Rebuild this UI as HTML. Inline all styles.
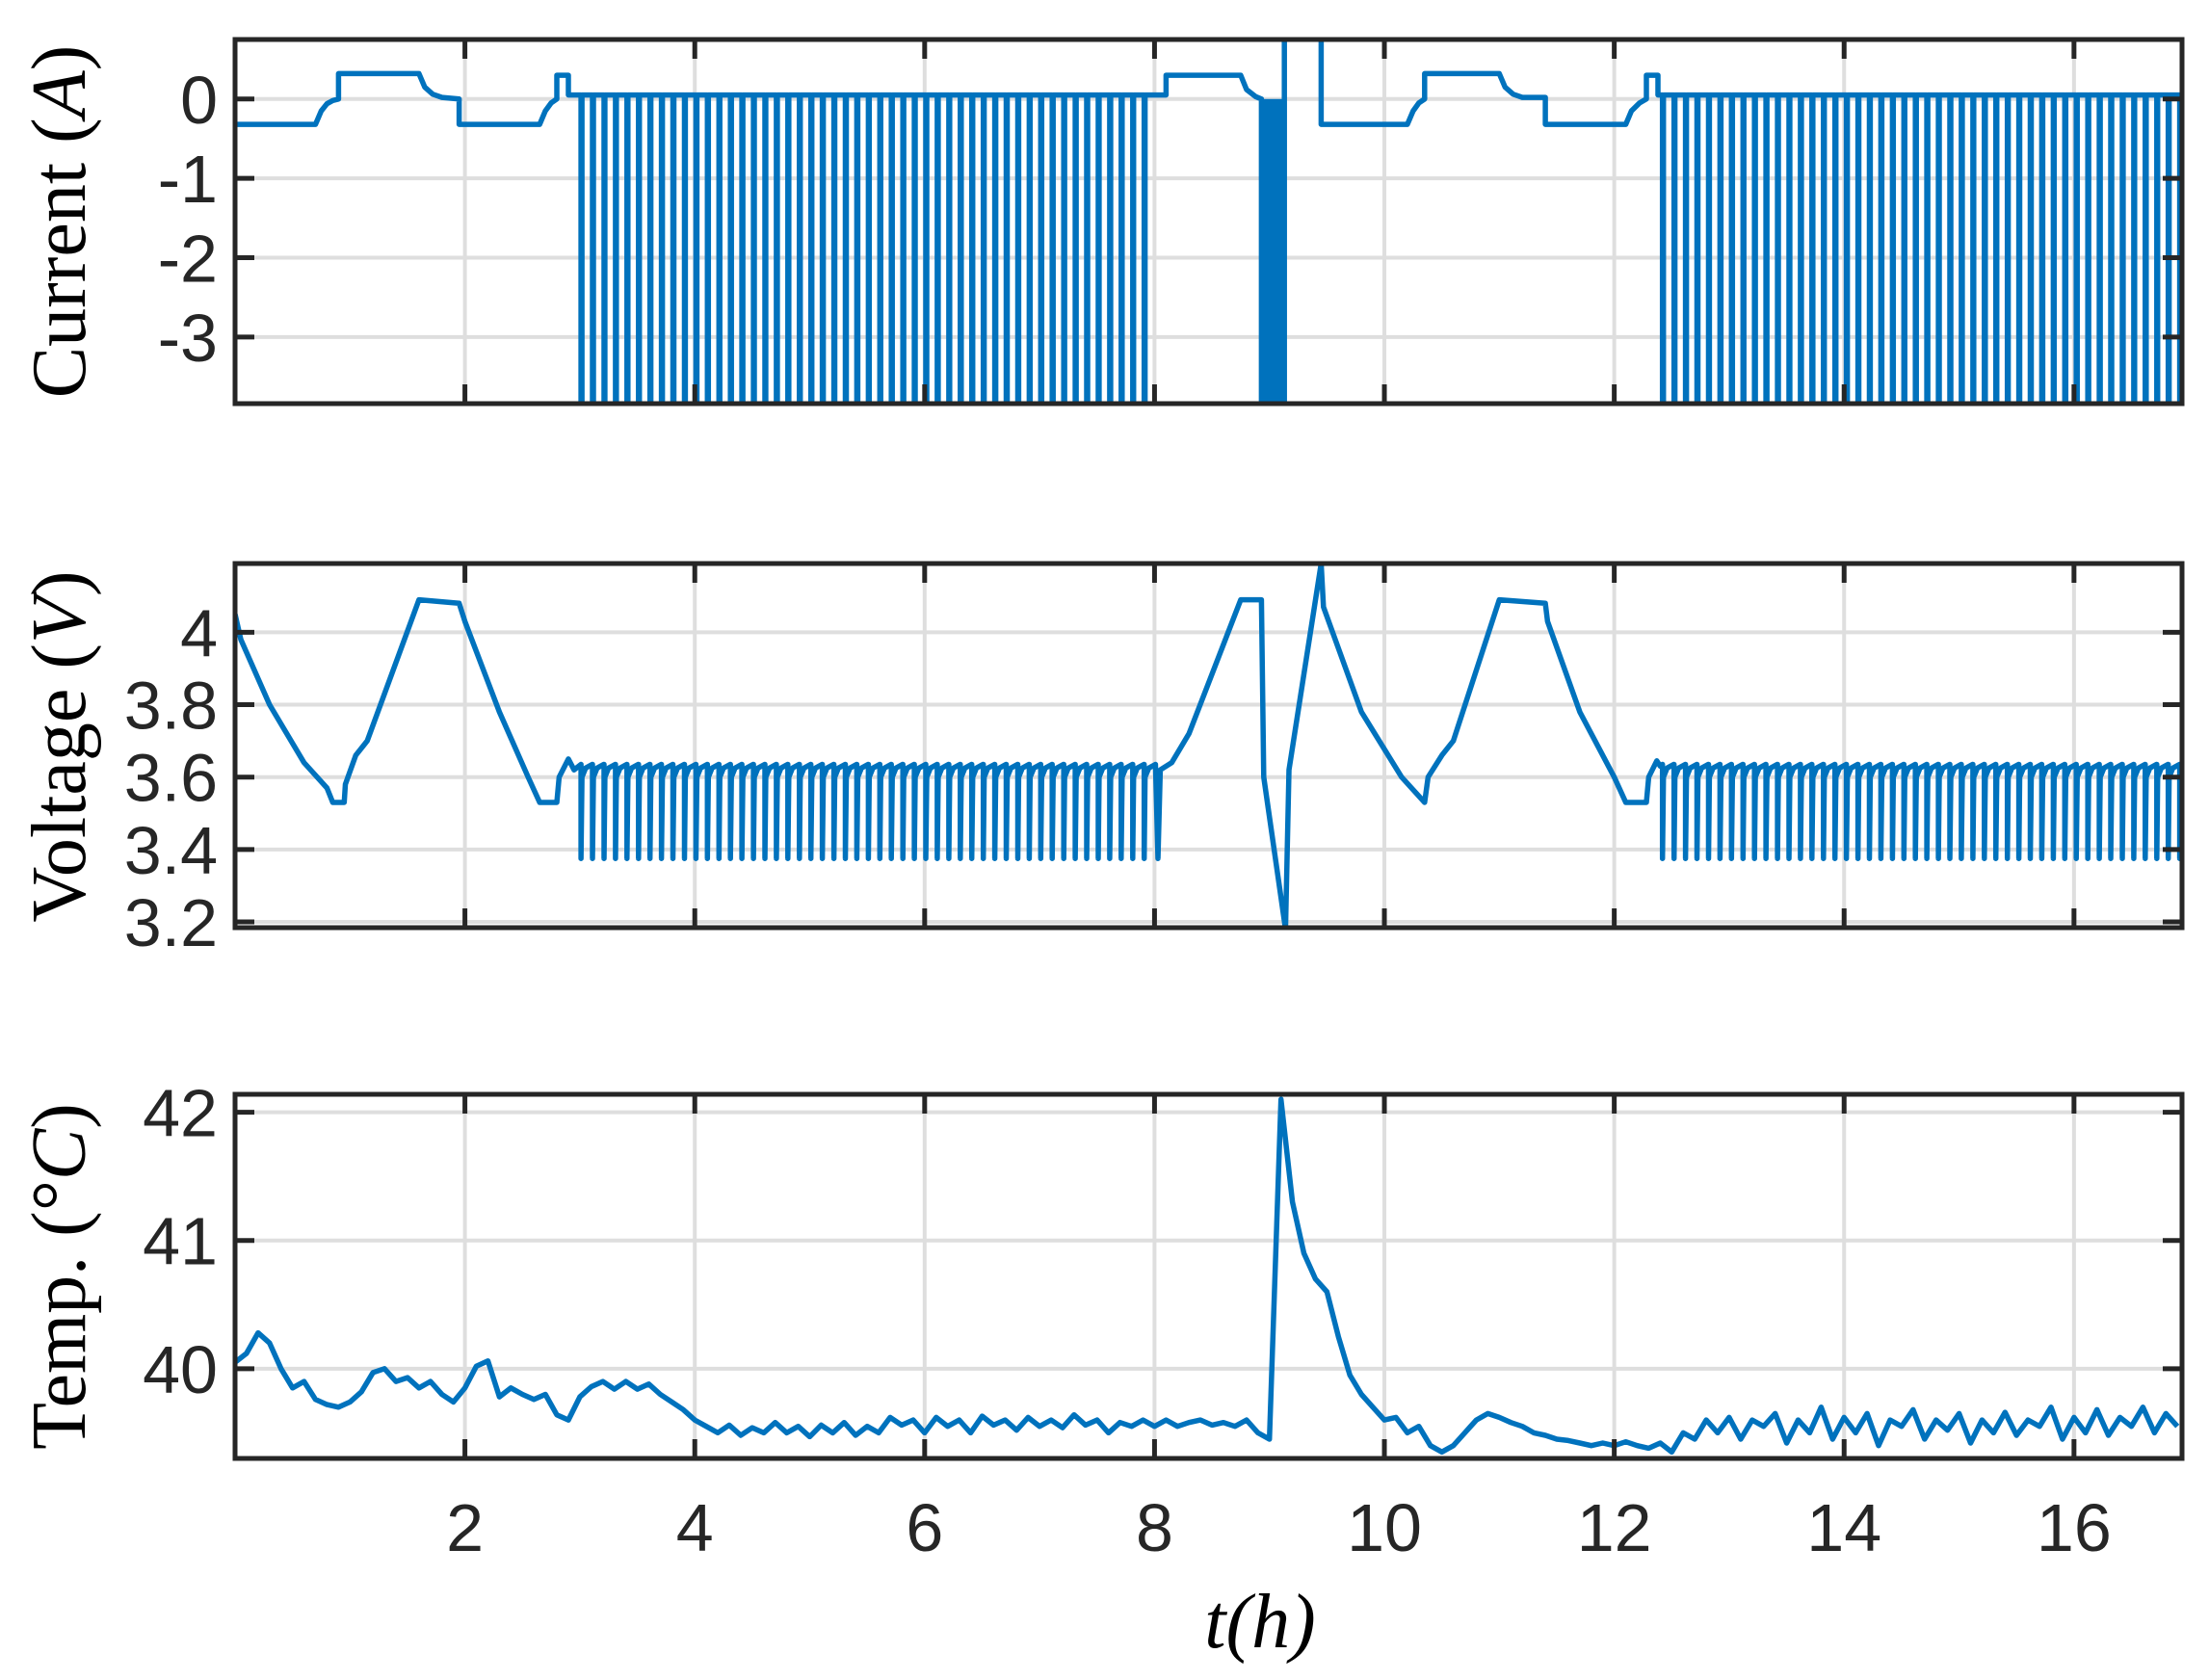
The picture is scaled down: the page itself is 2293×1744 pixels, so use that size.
<!DOCTYPE html>
<html><head><meta charset="utf-8"><style>
html,body{margin:0;padding:0;background:#fff;}
svg{display:block;}
.tk{font-family:"Liberation Sans",sans-serif;font-size:70px;fill:#262626;}
.lab{font-family:"Liberation Serif",serif;font-size:80px;fill:#000;}
</style></head><body>
<svg id="chart" width="2293" height="1744" viewBox="0 0 2293 1744" xmlns="http://www.w3.org/2000/svg">
<defs>
<clipPath id="c0"><rect x="244" y="41" width="2021" height="378"/></clipPath>
<clipPath id="c1"><rect x="244" y="585" width="2021" height="378"/></clipPath>
<clipPath id="c2"><rect x="244" y="1136" width="2021" height="378"/></clipPath>
</defs>
<g id="grid"></g>
<g id="series"></g>
<g id="axes"></g>
<text class="lab" x="1308" y="1710" text-anchor="middle" font-style="italic" font-size="86">t(h)</text>
<text class="lab" transform="translate(88,230) rotate(-90)" text-anchor="middle">Current (<tspan font-style="italic">A</tspan>)</text>
<text class="lab" transform="translate(88,775) rotate(-90)" text-anchor="middle">Voltage (<tspan font-style="italic">V</tspan>)</text>
<text class="lab" transform="translate(88,1325) rotate(-90)" text-anchor="middle">Temp. (°<tspan font-style="italic">C</tspan>)</text>
</svg>
<script>
// ---- data ----
const xTicks = [2,4,6,8,10,12,14,16];
const currentTicks = [0,-1,-2,-3];
const currentTickLabels = ["0","-1","-2","-3"];
const voltageTicks = [3.2,3.4,3.6,3.8,4];
const voltageTickLabels = ["3.2","3.4","3.6","3.8","4"];
const tempTicks = [40,41,42];
const tempTickLabels = ["40","41","42"];
// current profile breakpoints (hours, A)
const currentT = [0,0.7,0.75,0.8,0.85,0.9,0.9,1.6,1.65,1.72,1.8,1.95,1.95,2.65,2.7,2.75,2.8,2.8,2.9,2.9,3.0];
const currentI = [-0.32,-0.32,-0.15,-0.06,-0.02,0,0.32,0.32,0.15,0.06,0.02,0,-0.32,-0.32,-0.15,-0.05,0,0.3,0.3,0.05,0.05];
const currentT2 = [8.02,8.1,8.1,8.75,8.8,8.88,8.93,8.93,9.13,9.13,9.45,9.45,10.2,10.25,10.3,10.35,10.35,11.0,11.05,11.12,11.2,11.4,11.4,12.1,12.15,12.22,12.28,12.28,12.38,12.38,12.42];
const currentI2 = [0.05,0.05,0.3,0.3,0.12,0.03,0.0,-3.9,-3.9,0.9,0.9,-0.32,-0.32,-0.15,-0.05,0,0.32,0.32,0.15,0.06,0.02,0.02,-0.32,-0.32,-0.15,-0.05,0,0.3,0.3,0.05,0.05];
// pulse trains
const trainStart = [3.01,12.42];
const trainCount = [50,46];
const trainPeriod = [0.1,0.1];
const pulseCurrent = -3.9;
const pulseBase = 0.05;
const pulseVLow = 3.375, pulseVRec = 3.60, pulseVHigh = 3.635;
// voltage breakpoints
const voltT = [0,0.05,0.3,0.6,0.8,0.85,0.95,0.96,1.05,1.15,1.6,1.95,2.0,2.3,2.55,2.65,2.8,2.82,2.9,2.95,3.01];
const voltV = [4.05,3.98,3.8,3.64,3.57,3.53,3.53,3.58,3.66,3.7,4.09,4.08,4.03,3.78,3.6,3.53,3.53,3.6,3.65,3.62,3.635];
const voltT2 = [8.03,8.05,8.15,8.3,8.75,8.93,8.95,9.14,9.17,9.45,9.47,9.8,10.15,10.35,10.38,10.5,10.6,11.0,11.4,11.42,11.7,12.0,12.1,12.28,12.3,12.37,12.4,12.42];
const voltV2 = [3.375,3.62,3.64,3.72,4.09,4.09,3.6,3.18,3.62,4.19,4.07,3.78,3.6,3.53,3.6,3.66,3.7,4.09,4.08,4.03,3.78,3.6,3.53,3.53,3.6,3.645,3.63,3.635];
// temperature, sampled every 0.1 h starting at 0
const tempStep = 0.1;
const tempValues = [
40.05,40.12,40.28,40.2,40.0,39.85,39.9,39.76,39.72,39.7,
39.74,39.82,39.97,40.0,39.9,39.93,39.85,39.9,39.8,39.74,
39.85,40.02,40.06,39.78,39.85,39.8,39.76,39.8,39.64,39.6,
39.78,39.86,39.9,39.84,39.9,39.84,39.88,39.8,39.74,39.68,
39.6,39.55,39.5,39.56,39.48,39.54,39.5,39.58,39.5,39.55,
39.47,39.56,39.5,39.58,39.48,39.55,39.5,39.62,39.56,39.6,
39.5,39.62,39.55,39.6,39.5,39.63,39.56,39.6,39.52,39.62,
39.55,39.6,39.54,39.64,39.56,39.6,39.5,39.58,39.55,39.6,
39.55,39.6,39.55,39.58,39.6,39.56,39.58,39.55,39.6,39.5,
39.45,42.1,41.3,40.9,40.7,40.6,40.25,39.95,39.8,39.7,
39.6,39.62,39.5,39.55,39.4,39.35,39.4,39.5,39.6,39.65,
39.62,39.58,39.55,39.5,39.48,39.45,39.44,39.42,39.4,39.42,
39.4,39.43,39.4,39.38,39.42,39.35,39.5,39.45,39.6,39.5,
39.62,39.45,39.6,39.55,39.65,39.42,39.6,39.5,39.7,39.45,
39.62,39.5,39.65,39.4,39.6,39.55,39.68,39.45,39.6,39.52,
39.65,39.42,39.6,39.5,39.66,39.48,39.6,39.55,39.7,39.45,
39.62,39.5,39.68,39.48,39.62,39.55,39.7,39.5,39.65,39.55];

// ---- layout ----
const L=244, R=2265, xMax=16.94;
const panels=[
 {top:41,bot:419,min:-3.84,max:0.75},
 {top:585,bot:963,min:3.184,max:4.19},
 {top:1136,bot:1514,min:39.3,max:42.14}];
const X=t=>L+(t/xMax)*(R-L);
const Yf=p=>v=>p.bot-(v-p.min)/(p.max-p.min)*(p.bot-p.top);
const yC=Yf(panels[0]), yV=Yf(panels[1]), yT=Yf(panels[2]);
const NS="http://www.w3.org/2000/svg";
function mk(parent,tag,attrs){const e=document.createElementNS(NS,tag);for(const k in attrs)e.setAttribute(k,attrs[k]);parent.appendChild(e);return e;}
const grid=document.getElementById('grid'), ser=document.getElementById('series'), ax=document.getElementById('axes');
const SW=5.5;

// grid
panels.forEach((p,i)=>{
  xTicks.forEach(t=>{const g=mk(grid,'line',{x1:X(t),x2:X(t),y1:p.top,y2:p.bot,stroke:'#dedede','stroke-width':4});
  
  });
  const ticks=[currentTicks,voltageTicks,tempTicks][i], yf=[yC,yV,yT][i];
  ticks.forEach(v=>{const g=mk(grid,'line',{x1:L,x2:R,y1:yf(v),y2:yf(v),stroke:'#dedede','stroke-width':4});
  
  });
});

// current series
let pts=[];
for(let i=0;i<currentT.length;i++)pts.push([X(currentT[i]),yC(currentI[i])]);
function addCurrentTrain(k){for(let j=0;j<trainCount[k];j++){const tp=trainStart[k]+j*trainPeriod[k];
  pts.push([X(tp),yC(pulseBase)],[X(tp),yC(pulseCurrent)],[X(tp+0.008),yC(pulseCurrent)],[X(tp+0.008),yC(pulseBase)]);}}
addCurrentTrain(0);
for(let i=0;i<currentT2.length;i++)pts.push([X(currentT2[i]),yC(currentI2[i])]);
addCurrentTrain(1);
pts.push([X(xMax),yC(pulseBase)]);
const pc=mk(ser,'path',{d:'M'+pts.map(p=>p[0].toFixed(1)+','+p[1].toFixed(1)).join('L'),fill:'none',stroke:'#0072bd','stroke-width':SW,'clip-path':'url(#c0)','stroke-linejoin':'round'});


const blk=mk(ser,'rect',{x:X(8.93),y:yC(0),width:X(9.13)-X(8.93),height:yC(-3.9)-yC(0),fill:'#0072bd','clip-path':'url(#c0)'});



// voltage series
pts=[];
for(let i=0;i<voltT.length;i++)pts.push([X(voltT[i]),yV(voltV[i])]);
function addVoltTrain(k){for(let j=0;j<trainCount[k];j++){const tp=trainStart[k]+j*trainPeriod[k];
  pts.push([X(tp),yV(pulseVHigh)],[X(tp),yV(pulseVLow)],[X(tp+0.008),yV(pulseVRec)],[X(tp+0.04),yV(pulseVHigh-0.01)],[X(tp+trainPeriod[k]-0.002),yV(pulseVHigh)]);}}
addVoltTrain(0);
for(let i=0;i<voltT2.length;i++)pts.push([X(voltT2[i]),yV(voltV2[i])]);
addVoltTrain(1);
const pv=mk(ser,'path',{d:'M'+pts.map(p=>p[0].toFixed(1)+','+p[1].toFixed(1)).join('L'),fill:'none',stroke:'#0072bd','stroke-width':SW,'clip-path':'url(#c1)','stroke-linejoin':'round'});



// temperature
pts=tempValues.map((v,i)=>[X(i*tempStep),yT(v)]);
const pt=mk(ser,'path',{d:'M'+pts.map(p=>p[0].toFixed(1)+','+p[1].toFixed(1)).join('L'),fill:'none',stroke:'#0072bd','stroke-width':SW,'clip-path':'url(#c2)','stroke-linejoin':'round'});



// axes
const tl=20;
panels.forEach((p,i)=>{
  const box=mk(ax,'rect',{x:L,y:p.top,width:R-L,height:p.bot-p.top,fill:'none',stroke:'#262626','stroke-width':5});
  
  
  xTicks.forEach(t=>{mk(ax,'line',{x1:X(t),x2:X(t),y1:p.bot,y2:p.bot-tl,stroke:'#262626','stroke-width':5});
    mk(ax,'line',{x1:X(t),x2:X(t),y1:p.top,y2:p.top+tl,stroke:'#262626','stroke-width':5});});
  const ticks=[currentTicks,voltageTicks,tempTicks][i], labs=[currentTickLabels,voltageTickLabels,tempTickLabels][i], yf=[yC,yV,yT][i];
  ticks.forEach((v,j)=>{mk(ax,'line',{x1:L,x2:L+tl,y1:yf(v),y2:yf(v),stroke:'#262626','stroke-width':5});
    mk(ax,'line',{x1:R,x2:R-tl,y1:yf(v),y2:yf(v),stroke:'#262626','stroke-width':5});
    const tx=mk(ax,'text',{x:226,y:yf(v)+25,'text-anchor':'end',class:'tk'});tx.textContent=labs[j];
    
    });
});
xTicks.forEach(t=>{const tx=mk(ax,'text',{x:X(t),y:1610,'text-anchor':'middle',class:'tk'});tx.textContent=String(t);
  
  });
</script>
</body></html>
